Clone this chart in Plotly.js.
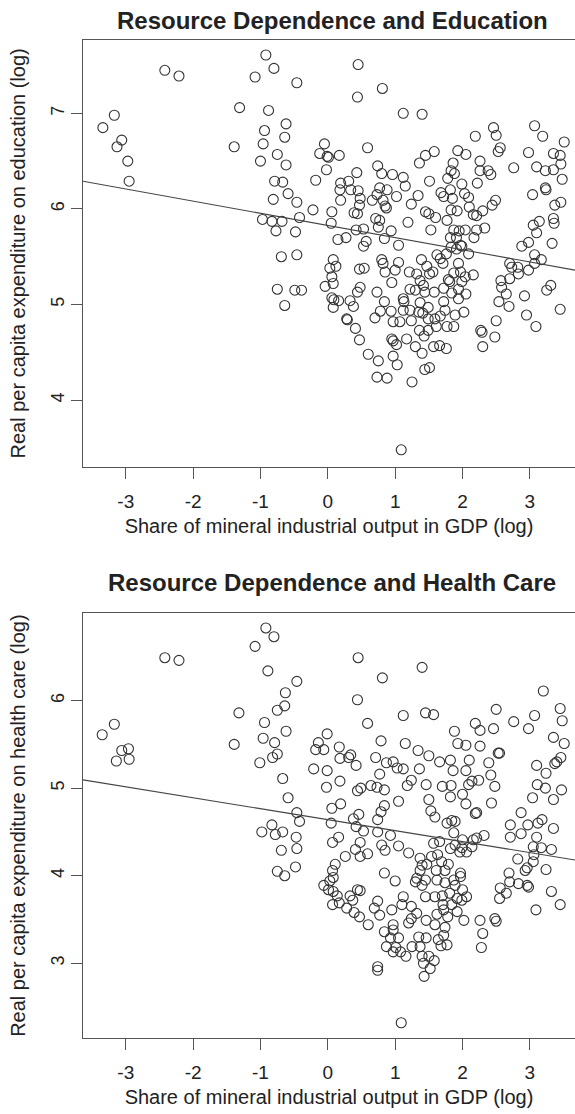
<!DOCTYPE html>
<html>
<head>
<meta charset="utf-8">
<script src="https://cdn.plot.ly/plotly-3.0.1.min.js"></script>
<style>html,body{margin:0;padding:0;background:#fff;}#chart{width:575px;height:1114px;}</style>
</head>
<body>
<div id="chart"></div>
<script>
// ---- Data ----
const titleEdu = "Resource Dependence and Education";
const titleHealth = "Resource Dependence and Health Care";
const xLabel = "Share of mineral industrial output in GDP (log)";
const yLabelEdu = "Real per capita expenditure on education (log)";
const yLabelHealth = "Real per capita expenditure on health care (log)";

const xTicks = [-3, -2, -1, 0, 1, 2, 3];
const yTicksEdu = [4, 5, 6, 7];
const yTicksHealth = [3, 4, 5, 6];

const eduPts = [
[-3.34,6.85],[-3.17,6.98],[-3.06,6.72],[-3.13,6.65],[-2.97,6.50],[-2.95,6.29],[-2.42,7.45],[-2.21,7.39],[-1.31,7.06],[-1.39,6.65],
[-0.92,7.61],[-0.80,7.47],[-1.08,7.38],[-0.46,7.32],[-0.88,7.03],[-0.62,6.89],[-0.94,6.82],[-0.64,6.75],[-0.96,6.68],[-0.75,6.57],
[-1.00,6.50],[-0.62,6.46],[-0.79,6.29],[-0.67,6.28],[-0.59,6.16],[-0.81,6.10],[-0.46,6.07],[-0.97,5.89],[-0.83,5.87],[-0.68,5.87],
[-0.42,5.91],[-0.77,5.77],[-0.48,5.76],
[-0.69,5.50],[-0.46,5.52],[-0.75,5.16],[-0.49,5.15],[-0.39,5.15],[-0.64,4.99],
[0.45,7.51],[0.44,7.17],[0.81,7.26],[1.12,7.00],[1.40,6.99],[2.46,6.85],[2.50,6.77],[2.19,6.76],[3.07,6.87],[3.19,6.76],
[3.51,6.70],[2.56,6.64],[2.53,6.60],[2.98,6.59],[3.35,6.58],[3.45,6.56],[3.46,6.47],[3.10,6.44],[3.23,6.40],[3.35,6.41],
[3.48,6.31],[2.76,6.43],[2.26,6.50],[2.26,6.40],[2.38,6.40],[2.42,6.36],[0.59,6.64],[-0.05,6.68],[-0.12,6.58],[-0.01,6.55],
[0.01,6.54],[0.17,6.56],[-0.02,6.41],[-0.18,6.30],[0.43,6.38],[0.19,6.27],[0.18,6.20],[0.31,6.29],[0.34,6.20],[0.45,6.19],
[0.48,6.11],[0.19,6.09],[0.39,5.96],[0.44,5.95],[0.47,6.04],[0.06,5.97],[0.05,5.85],[-0.22,5.99],[0.74,6.45],[0.80,6.37],
[0.96,6.36],[1.12,6.33],[1.15,6.24],[1.02,6.13],[0.77,6.22],[0.88,6.20],[0.73,6.15],[0.66,6.09],[0.82,6.09],[0.85,6.03],
[0.87,6.01],[1.24,6.05],[1.34,6.14],[1.36,6.48],[1.45,6.56],[1.58,6.60],[1.51,6.29],[1.93,6.61],[2.05,6.57],[1.86,6.48],
[1.83,6.40],[1.88,6.37],[1.78,6.32],[1.99,6.26],[2.22,6.27],[1.68,6.17],[1.72,6.13],[1.82,6.20],[1.85,6.11],[2.03,6.16],
[2.09,6.12],[2.10,6.02],[1.83,5.99],[1.92,5.98],[2.30,5.98],[2.44,6.04],[2.49,6.09],[2.16,5.94],[2.21,5.93],[1.45,5.97],
[1.50,5.95],[1.60,5.91],[1.19,5.86],[0.71,5.90],[0.77,5.88],[0.75,5.81],[0.94,5.77],[0.53,5.79],[0.57,5.66],[0.42,5.78],
[0.27,5.70],[0.15,5.68],[0.84,5.69],[1.05,5.62],[1.53,5.78],[1.77,5.88],[1.87,5.78],[1.95,5.77],[2.04,5.78],[2.21,5.78],
[2.33,5.80],[1.82,5.70],[1.91,5.70],[2.17,5.70],[1.97,5.62],[3.05,5.83],[3.14,5.87],[3.35,5.90],[3.36,5.85],[3.10,5.75],
[3.33,5.64],[2.98,5.65],[2.88,5.61],[3.23,6.22],[3.24,6.20],[3.04,6.15],[3.37,6.04],[3.46,6.07],
[0.53,5.61],[0.08,5.47],[0.03,5.38],[0.12,5.40],[0.06,5.29],[0.08,5.22],[-0.04,5.19],[0.06,5.07],[0.09,5.05],[0.08,4.97],
[0.16,5.04],[0.33,5.04],[0.38,4.98],[0.47,5.37],[0.54,5.38],[0.48,5.18],[0.44,5.13],[0.28,4.85],[0.29,4.84],[0.41,4.75],
[0.47,4.63],[0.60,4.48],[0.75,4.41],[0.73,4.24],[0.88,4.23],[0.80,5.47],[0.82,5.43],[0.85,5.34],[1.00,5.36],[1.05,5.44],
[0.95,5.23],[0.73,5.13],[0.84,5.03],[0.78,4.93],[0.94,4.93],[0.70,4.86],[0.97,4.82],[1.07,4.82],[1.12,5.06],[1.13,5.03],
[1.12,4.94],[1.22,4.94],[1.24,4.83],[1.21,5.34],[1.32,5.32],[1.30,5.15],[1.22,5.16],[1.39,5.47],[1.47,5.40],[1.51,5.32],
[1.56,5.34],[1.37,5.25],[1.42,5.20],[1.44,5.13],[1.58,5.13],[1.37,5.02],[1.49,4.97],[1.41,4.91],[1.35,4.92],[1.49,4.85],
[1.59,4.85],[1.36,4.73],[1.49,4.73],[1.61,4.77],[1.43,4.67],[1.17,4.64],[0.95,4.64],[0.97,4.62],[1.02,4.58],[1.30,4.56],
[1.40,4.49],[1.57,4.56],[1.66,4.57],[1.76,4.54],[0.97,4.46],[1.03,4.37],[1.25,4.19],[1.44,4.32],[1.51,4.34],[1.09,3.48],
[1.62,5.52],[1.67,5.48],[1.71,5.43],[1.76,5.53],[1.83,5.60],[1.91,5.58],[1.99,5.61],[2.09,5.53],[1.94,5.43],[1.87,5.33],
[1.97,5.34],[1.79,5.26],[1.81,5.24],[1.99,5.24],[2.04,5.29],[2.16,5.31],[1.72,5.17],[1.84,5.12],[1.94,5.16],[2.05,5.11],
[1.72,5.03],[1.74,4.94],[1.67,4.88],[1.89,4.89],[2.02,4.92],[1.77,4.77],[1.87,4.77],[1.94,5.06],[2.27,4.73],[2.29,4.71],
[2.30,4.56],[2.48,4.66],[2.50,4.83],[2.54,5.03],[2.57,5.25],[2.58,5.18],[2.65,5.11],[2.69,4.98],[2.70,5.27],[2.70,5.43],
[2.73,5.39],[2.83,5.32],[2.82,5.39],[2.92,5.09],[2.95,4.89],[3.09,4.77],[2.98,5.36],[3.07,5.43],[3.07,5.52],[3.17,5.47],
[3.25,5.15],[3.31,5.20],[3.45,4.95]
];

const healthPts = [
[-3.35,5.61],[-3.17,5.73],[-3.06,5.43],[-2.96,5.45],[-3.14,5.31],[-2.95,5.33],[-2.42,6.49],[-2.21,6.46],[-0.92,6.83],[-0.80,6.73],
[-1.08,6.62],[-0.89,6.34],[-0.46,6.22],[-0.63,6.09],[-1.32,5.86],[-0.64,5.94],[-0.75,5.89],[-0.94,5.75],[-1.39,5.50],[-0.96,5.57],
[-0.79,5.52],[-0.62,5.65],[-1.01,5.29],[-0.82,5.35],[-0.75,5.39],[-0.67,5.11],[-0.59,4.89],
[-0.46,4.72],[-0.42,4.62],[-0.98,4.50],[-0.83,4.58],[-0.78,4.47],[-0.67,4.50],[-0.47,4.44],[-0.69,4.29],[-0.46,4.31],[-0.75,4.05],
[-0.64,4.00],[-0.48,4.10],
[0.45,6.49],[0.44,6.01],[0.81,6.26],[1.40,6.38],[1.12,5.83],[1.45,5.86],[1.57,5.84],[0.59,5.74],[-0.01,5.62],[-0.14,5.52],
[-0.18,5.44],[-0.06,5.44],[-0.21,5.22],[-0.01,5.20],[-0.02,5.01],[0.17,5.47],[0.18,5.34],[0.31,5.35],[0.34,5.38],[0.42,5.26],
[0.18,5.08],[0.44,4.97],[0.49,5.00],[0.19,4.82],[0.06,4.77],[0.79,5.54],[1.15,5.51],[0.71,5.35],[0.87,5.29],[0.97,5.30],
[1.03,5.23],[1.12,5.22],[0.77,5.16],[0.64,5.03],[0.73,5.01],[0.84,4.98],[1.24,5.09],[1.18,5.03],[1.34,5.43],[1.36,5.22],
[1.50,5.37],[1.66,5.30],[1.82,5.32],[1.86,5.20],[1.88,5.65],[1.93,5.51],[2.05,5.49],[2.19,5.74],[2.26,5.66],[2.46,5.68],
[2.50,5.90],[2.76,5.76],[2.98,5.68],[3.07,5.83],[3.20,6.11],[3.45,5.91],[3.48,5.77],[3.35,5.58],[3.51,5.51],[2.26,5.48],
[2.53,5.40],[2.55,5.40],[2.39,5.29],[2.10,5.32],[2.05,5.20],[2.42,5.15],[2.48,5.02],[1.46,5.04],[1.70,5.02],[1.83,5.03],
[1.82,4.90],[2.00,4.93],[2.09,5.04],[2.14,5.08],[2.24,5.09],[1.50,4.87],[1.05,4.85],[2.05,4.82],[2.43,4.83],[3.10,5.26],
[3.24,5.17],[3.37,5.28],[3.40,5.30],[3.46,5.35],[3.11,5.04],[3.23,5.00],[3.47,4.98],[3.04,4.89],[3.35,4.87],[0.84,4.80],
[0.05,4.60],[0.16,4.44],[0.07,4.38],[0.26,4.22],[0.11,4.13],[0.07,4.06],[0.08,3.98],[0.03,3.94],[-0.06,3.89],[0.01,3.84],
[0.08,3.82],[0.14,3.77],[0.07,3.67],[0.17,3.69],[0.33,3.77],[0.28,3.63],[0.37,3.72],[0.39,3.58],[0.47,3.53],[0.44,3.84],
[0.48,3.83],[0.60,3.44],[0.46,4.70],[0.38,4.65],[0.42,4.56],[0.48,4.38],[0.41,4.30],[0.48,4.22],[0.59,4.25],[0.53,4.51],
[0.74,4.50],[0.74,4.64],[0.79,4.73],[0.93,4.46],[0.80,4.35],[0.85,4.29],[1.05,4.34],[1.20,4.26],[0.84,4.03],[1.00,3.94],
[0.74,3.71],[0.69,3.63],[0.77,3.55],[0.95,3.61],[1.12,3.76],[1.10,3.67],[1.24,3.65],[1.24,3.51],[1.20,3.46],[0.97,3.44],
[0.97,3.38],[0.84,3.36],[0.93,3.29],[1.05,3.29],[0.87,3.19],[1.01,3.18],[0.97,3.13],[1.08,3.13],[1.16,3.08],[1.25,3.19],
[0.74,2.96],[0.74,2.92],[1.09,2.32],[1.35,3.30],[1.46,3.29],[1.37,3.19],[1.40,3.08],[1.50,3.08],[1.58,3.03],[1.42,3.00],
[1.52,2.94],[1.43,2.85],[1.46,3.49],[1.59,3.44],[1.74,3.41],[1.72,3.32],[1.64,3.27],[1.68,3.20],[1.77,3.21],[1.32,3.57],
[1.62,3.56],[1.72,3.61],[1.71,3.67],[1.78,3.53],[1.84,3.67],[1.92,3.59],[2.02,3.49],[2.06,3.76],[2.00,3.84],[1.92,3.74],
[1.81,3.80],[1.70,3.77],[1.59,3.76],[1.45,3.76],[1.99,3.72],[1.32,3.97],[1.40,3.89],[1.30,3.93],[1.45,3.95],[1.62,3.95],
[1.74,3.92],[1.87,3.95],[1.97,4.03],[1.97,3.99],[1.89,3.89],[1.37,4.06],[1.37,4.20],[1.40,4.12],[1.47,4.13],[1.54,4.22],
[1.63,4.24],[1.69,4.16],[1.79,4.13],[1.74,4.06],[1.61,4.06],[1.57,4.37],[1.66,4.39],[1.82,4.31],[1.89,4.35],[1.99,4.32],
[2.06,4.27],[2.14,4.33],[2.16,4.41],[2.21,4.43],[2.32,4.46],[1.96,4.27],[1.77,4.60],[1.84,4.63],[1.89,4.62],[1.87,4.49],
[2.00,4.41],[1.59,4.67],[1.53,4.74],[2.21,4.72],[2.19,4.71],[2.26,3.49],[2.30,3.34],[2.28,3.18],[2.48,3.51],[2.50,3.48],
[2.55,3.74],[2.56,3.86],[2.65,3.80],[2.70,3.93],[2.69,4.03],[2.83,3.91],[2.96,3.89],[2.98,3.87],[2.82,4.19],[2.93,4.06],
[2.96,4.09],[3.05,4.16],[3.06,4.24],[3.05,4.33],[3.10,4.44],[3.17,4.32],[3.32,4.30],[3.24,4.07],[3.32,3.82],[3.09,3.61],
[3.45,3.67],[2.71,4.58],[2.71,4.44],[2.87,4.48],[2.97,4.58],[3.12,4.60],[3.18,4.64],[3.35,4.54],[2.87,4.72]
];

// Fitted regression lines (end points read at plot edges)
const fitEduX = [-3.635, 3.67];
const fitEduY = [6.29, 5.36];
const fitHealthX = [-3.635, 3.67];
const fitHealthY = [5.095, 4.18];

// ---- Styling ----
const FONT = "Liberation Sans, Arial, Helvetica, sans-serif";
const INK = "#222";
const AXC = "#555";

const eduX = eduPts.map(p => p[0]), eduY = eduPts.map(p => p[1]);
const heX = healthPts.map(p => p[0]), heY = healthPts.map(p => p[1]);

const marker = {symbol: "circle-open", size: 10, color: "#333", line: {width: 1.1, color: "#333"}};

const traces = [
  {x: eduX, y: eduY, type: "scatter", mode: "markers", marker: marker, xaxis: "x", yaxis: "y", hoverinfo: "x+y"},
  {x: fitEduX, y: fitEduY, type: "scatter", mode: "lines", line: {color: "#444", width: 1.1}, xaxis: "x", yaxis: "y"},
  {x: heX, y: heY, type: "scatter", mode: "markers", marker: marker, xaxis: "x2", yaxis: "y2", hoverinfo: "x+y"},
  {x: fitHealthX, y: fitHealthY, type: "scatter", mode: "lines", line: {color: "#444", width: 1.1}, xaxis: "x2", yaxis: "y2"}
];

function xAxis(anchor) {
  return {
    anchor: anchor, domain: [0, 1], range: [-3.635, 3.67],
    tickvals: xTicks, ticktext: xTicks.map(String),
    ticks: "outside", ticklen: 11, tickwidth: 1, tickcolor: AXC,
    showline: true, linecolor: AXC, linewidth: 1.2, mirror: true,
    showgrid: false, zeroline: false,
    tickfont: {family: FONT, size: 19, color: INK},
    ticklabelstandoff: 6,
    title: {text: xLabel, font: {family: FONT, size: 20, color: INK}, standoff: 8},
    automargin: false
  };
}
function yAxis(anchor, domain, range, ticks, label) {
  return {
    anchor: anchor, domain: domain, range: range,
    tickvals: ticks, ticktext: ticks.map(String), tickangle: -90,
    ticks: "outside", ticklen: 11, tickwidth: 1, tickcolor: AXC,
    showline: true, linecolor: AXC, linewidth: 1.2, mirror: false,
    showgrid: false, zeroline: false,
    tickfont: {family: FONT, size: 18, color: INK},
    ticklabelstandoff: 0,
    title: {text: label, font: {family: FONT, size: 20, color: INK}, standoff: 16},
    automargin: false
  };
}

const layout = {
  width: 575, height: 1114,
  margin: {l: 83, r: 0, t: 40, b: 76},
  paper_bgcolor: "#fff", plot_bgcolor: "#fff",
  showlegend: false,
  xaxis: xAxis("y"),
  yaxis: yAxis("x", [0.5724, 1], [3.303, 7.767], yTicksEdu, yLabelEdu),
  xaxis2: xAxis("y2"),
  yaxis2: yAxis("x2", [0, 0.4256], [2.146, 6.998], yTicksHealth, yLabelHealth),
  annotations: [
    {text: "<b>" + titleEdu + "</b>", xref: "paper", yref: "paper", x: 0.507, y: 1.020,
     xanchor: "center", yanchor: "middle", showarrow: false, font: {family: FONT, size: 24, color: INK}},
    {text: "<b>" + titleHealth + "</b>", xref: "paper", yref: "paper", x: 0.507, y: 0.456,
     xanchor: "center", yanchor: "middle", showarrow: false, font: {family: FONT, size: 24, color: INK}}
  ]
};

Plotly.newPlot("chart", traces, layout, {staticPlot: true, displayModeBar: false});
</script>
</body>
</html>
